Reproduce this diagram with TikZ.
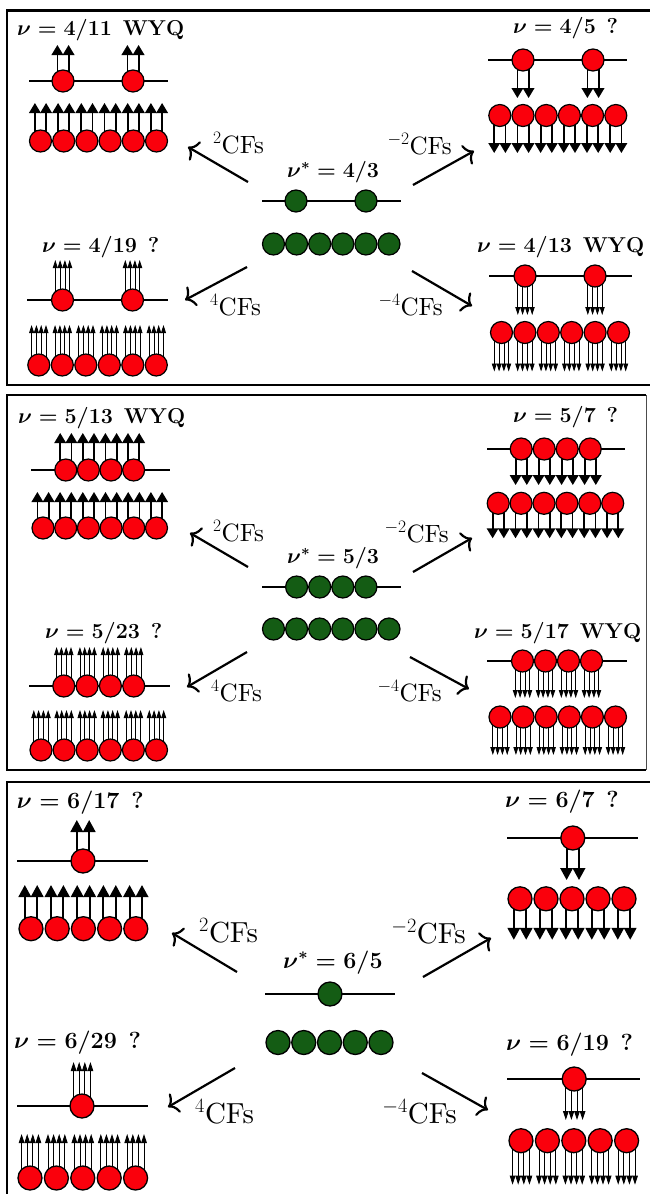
\documentclass[tikz,border=0pt]{standalone}
\usepackage{fix-cm}
\usepackage{fontspec}
\newfontfamily\cffont{lmroman10-regular}[Extension=.otf]
\usetikzlibrary{arrows.meta,backgrounds}
\definecolor{rossocf}{RGB}{250,0,12}
\definecolor{verdecf}{RGB}{20,92,20}

\begin{document}
\begin{tikzpicture}[x=1pt, y=-1pt,
        pannello/.style={line width=2.8pt},
        livello/.style={line width=1.8pt},
        cfr/.style={circle, draw, line width=1.2pt, fill=rossocf, minimum size=22pt, inner sep=0pt},
        cfv/.style={cfr, fill=verdecf},
        cfr6/.style={cfr, line width=1.3pt, minimum size=24pt},
        cfv6/.style={cfr6, fill=verdecf},
        flusso2/.style={line width=1.8pt, -{Triangle[width=11.5pt, length=10pt]}},
        flusso4/.style={line width=0.8pt, -{Triangle[width=4.9pt, length=8pt]}},
        flusso2g/.style={line width=2pt, -{Triangle[width=12.5pt, length=12pt]}},
        flusso4g/.style={line width=0.9pt, -{Triangle[width=5.6pt, length=9pt]}},
        freccia/.style={line width=2.2pt, -{Computer Modern Rightarrow[length=9pt, width=22pt]}},
        nu/.style={font=\fontsize{21.5}{25}\selectfont\bfseries\boldmath, inner sep=0pt, anchor=base west},
        nug/.style={nu, font=\fontsize{23.3}{27}\selectfont\bfseries\boldmath},
        cf/.style={font=\fontsize{25}{29}\cffont, inner sep=0pt},
        cfg/.style={font=\fontsize{29}{33}\cffont, inner sep=0pt}
    ]
        \useasboundingbox (0,0) rectangle (649,1194);

        % Pannello nu* = 4/3
        \draw[pannello] (7,10.5) rectangle (665,385);
        \node[nu] (cen1) at (287,177) {$\nu^* = 4/3$};
        \draw[livello] (262,201) -- (401,201);
        \foreach \x [count=\i] in {296,366} \node[cfv] (v1a\i) at (\x,201) {};
        \foreach \i in {0,...,5} \node[cfv] (v1b\i) at (273.5+23.1*\i,244) {};

        % 2CFs: nu = 4/11
        \node[nu] (t1a) at (17,35) {$\nu = 4/11$\enspace WYQ};
        \draw[livello] (29,81) -- (168,81);
        \foreach \x [count=\i] in {63,133} {
            \node[cfr] (r1a\i) at (\x,81) {};
            \begin{scope}[on background layer]
                \foreach \d in {-5.6,5.6} \draw[flusso2] ([xshift=\d pt]r1a\i.center) -- ++(0,-36);
            \end{scope}
        }
        \foreach \i in {0,...,5} {
            \node[cfr] (r1b\i) at (40.5+23.2*\i,141) {};
            \begin{scope}[on background layer]
                \foreach \d in {-5.6,5.6} \draw[flusso2] ([xshift=\d pt]r1b\i.center) -- ++(0,-38);
            \end{scope}
        }

        % -2CFs: nu = 4/5
        \node[nu] (t1b) at (513,33) {$\nu = 4/5$\enspace?};
        \draw[livello] (488,60) -- (627,60);
        \foreach \x [count=\i] in {523,593} {
            \node[cfr] (r1c\i) at (\x,60) {};
            \begin{scope}[on background layer]
                \foreach \d in {-5.6,5.6} \draw[flusso2] ([xshift=\d pt]r1c\i.center) -- ++(0,38);
            \end{scope}
        }
        \foreach \i in {0,...,5} {
            \node[cfr] (r1d\i) at (499.8+23.2*\i,115.5) {};
            \begin{scope}[on background layer]
                \foreach \d in {-5.6,5.6} \draw[flusso2] ([xshift=\d pt]r1d\i.center) -- ++(0,37.5);
            \end{scope}
        }

        % 4CFs: nu = 4/19
        \node[nu] (t1c) at (42,252) {$\nu = 4/19$\enspace?};
        \draw[livello] (27,300) -- (168,300);
        \foreach \x [count=\i] in {62.5,132.5} {
            \node[cfr] (r1e\i) at (\x,300) {};
            \begin{scope}[on background layer]
                \foreach \d in {-7.2,-2.4,2.4,7.2} \draw[flusso4] ([xshift=\d pt]r1e\i.center) -- ++(0,-40);
            \end{scope}
        }
        \foreach \i in {0,...,5} {
            \node[cfr] (r1f\i) at (38.8+23.5*\i,365) {};
            \begin{scope}[on background layer]
                \foreach \d in {-7.2,-2.4,2.4,7.2} \draw[flusso4] ([xshift=\d pt]r1f\i.center) -- ++(0,-40);
            \end{scope}
        }

        % -4CFs: nu = 4/13
        \node[nu] (t1d) at (477,252) {$\nu = 4/13$\enspace WYQ};
        \draw[livello] (489,276) -- (632,276);
        \foreach \x [count=\i] in {525,595} {
            \node[cfr] (r1g\i) at (\x,276) {};
            \begin{scope}[on background layer]
                \foreach \d in {-7.2,-2.4,2.4,7.2} \draw[flusso4] ([xshift=\d pt]r1g\i.center) -- ++(0,39);
            \end{scope}
        }
        \foreach \i in {0,...,5} {
            \node[cfr] (r1h\i) at (501.5+23.4*\i,332.5) {};
            \begin{scope}[on background layer]
                \foreach \d in {-7.2,-2.4,2.4,7.2} \draw[flusso4] ([xshift=\d pt]r1h\i.center) -- ++(0,39);
            \end{scope}
        }

        % Frecce CF
        \coordinate (s1a) at (248,182); \coordinate (e1a) at (188,147);
        \coordinate (s1b) at (413,185); \coordinate (e1b) at (474,151);
        \coordinate (s1c) at (247,267); \coordinate (e1c) at (185,300);
        \coordinate (s1d) at (412,271); \coordinate (e1d) at (472,306);
        \foreach \n in {a,b,c,d} \draw[freccia] (s1\n) -- (e1\n);
        \node[cf, anchor=base west] (k1a) at (213,153) {$^{2}$CFs};
        \node[cf, anchor=base east] (k1b) at (452,154) {$^{-2}$CFs};
        \node[cf, anchor=base west] (k1c) at (210,315) {$^{4}$CFs};
        \node[cf, anchor=base east] (k1d) at (443,315) {$^{-4}$CFs};

        % Pannello nu* = 5/3
        \draw[pannello] (646,395) -- (7,395) -- (7,770) -- (646,770);
        \draw[line width=1pt, black!70] (646,395) -- (646,770);
        \node[nu] (cen2) at (287,563) {$\nu^* = 5/3$};
        \draw[livello] (262,587) -- (401,587);
        \foreach \i in {0,...,3} \node[cfv] (v2a\i) at (296.6+23.1*\i,587) {};
        \foreach \i in {0,...,5} \node[cfv] (v2b\i) at (273.5+23.1*\i,629) {};

        % 2CFs: nu = 5/13
        \node[nu] (t2a) at (18,423) {$\nu = 5/13$\enspace WYQ};
        \draw[livello] (31,470) -- (170,470);
        \foreach \i in {0,...,3} {
            \node[cfr] (r2a\i) at (65.8+22.6*\i,470) {};
            \begin{scope}[on background layer]
                \foreach \d in {-5.6,5.6} \draw[flusso2] ([xshift=\d pt]r2a\i.center) -- ++(0,-37);
            \end{scope}
        }
        \foreach \i in {0,...,5} {
            \node[cfr] (r2b\i) at (43+22.7*\i,528) {};
            \begin{scope}[on background layer]
                \foreach \d in {-5.6,5.6} \draw[flusso2] ([xshift=\d pt]r2b\i.center) -- ++(0,-36);
            \end{scope}
        }

        % -2CFs: nu = 5/7
        \node[nu] (t2b) at (513,422) {$\nu = 5/7$\enspace?};
        \draw[livello] (487,449) -- (625,449);
        \foreach \i in {0,...,3} {
            \node[cfr] (r2c\i) at (521.2+23*\i,449) {};
            \begin{scope}[on background layer]
                \foreach \d in {-5.6,5.6} \draw[flusso2] ([xshift=\d pt]r2c\i.center) -- ++(0,36);
            \end{scope}
        }
        \foreach \i in {0,...,5} {
            \node[cfr] (r2d\i) at (498.2+22.9*\i,503.3) {};
            \begin{scope}[on background layer]
                \foreach \d in {-5.6,5.6} \draw[flusso2] ([xshift=\d pt]r2d\i.center) -- ++(0,35);
            \end{scope}
        }

        % 4CFs: nu = 5/23
        \node[nu] (t2c) at (45,638) {$\nu = 5/23$\enspace?};
        \draw[livello] (29,686) -- (170,686);
        \foreach \i in {0,...,3} {
            \node[cfr] (r2e\i) at (63.8+23.3*\i,686) {};
            \begin{scope}[on background layer]
                \foreach \d in {-7.2,-2.4,2.4,7.2} \draw[flusso4] ([xshift=\d pt]r2e\i.center) -- ++(0,-39);
            \end{scope}
        }
        \foreach \i in {0,...,5} {
            \node[cfr] (r2f\i) at (41+23.1*\i,750) {};
            \begin{scope}[on background layer]
                \foreach \d in {-7.2,-2.4,2.4,7.2} \draw[flusso4] ([xshift=\d pt]r2f\i.center) -- ++(0,-40);
            \end{scope}
        }

        % -4CFs: nu = 5/17
        \node[nu] (t2d) at (474,638) {$\nu = 5/17$\enspace WYQ};
        \draw[livello] (487,661) -- (627,661);
        \foreach \i in {0,...,3} {
            \node[cfr] (r2g\i) at (522.5+23*\i,661) {};
            \begin{scope}[on background layer]
                \foreach \d in {-7.2,-2.4,2.4,7.2} \draw[flusso4] ([xshift=\d pt]r2g\i.center) -- ++(0,37);
            \end{scope}
        }
        \foreach \i in {0,...,5} {
            \node[cfr] (r2h\i) at (500+23.1*\i,717) {};
            \begin{scope}[on background layer]
                \foreach \d in {-7.2,-2.4,2.4,7.2} \draw[flusso4] ([xshift=\d pt]r2h\i.center) -- ++(0,38);
            \end{scope}
        }

        % Frecce CF
        \coordinate (s2a) at (248,567); \coordinate (e2a) at (190,533);
        \coordinate (s2b) at (413,572); \coordinate (e2b) at (472,538);
        \coordinate (s2c) at (247,652); \coordinate (e2c) at (187,687);
        \coordinate (s2d) at (410,657); \coordinate (e2d) at (469,689);
        \foreach \n in {a,b,c,d} \draw[freccia] (s2\n) -- (e2\n);
        \node[cf, anchor=base west] (k2a) at (213,541) {$^{2}$CFs};
        \node[cf, anchor=base east] (k2b) at (449,542) {$^{-2}$CFs};
        \node[cf, anchor=base west] (k2c) at (211,701) {$^{4}$CFs};
        \node[cf, anchor=base east] (k2d) at (442,701) {$^{-4}$CFs};

        % Pannello nu* = 6/5
        \draw[pannello] (7,782) rectangle (665,1210);
        \node[nug] (cen3) at (283,968) {$\nu^* = 6/5$};
        \draw[livello] (265,994) -- (395,994);
        \node[cfv6] (v3a) at (330,994) {};
        \foreach \i in {0,...,4} \node[cfv6] (v3b\i) at (278+25.75*\i,1042.5) {};

        % 2CFs: nu = 6/17
        \node[nug] (t3a) at (16.7,808) {$\nu = 6/17$\enspace?};
        \draw[livello] (17,861) -- (148,861);
        \node[cfr6] (r3a) at (83,861) {};
        \begin{scope}[on background layer]
            \foreach \d in {-6.2,6.2} \draw[flusso2g] ([xshift=\d pt]r3a.center) -- ++(0,-41);
        \end{scope}
        \foreach \i in {0,...,4} {
            \node[cfr6] (r3b\i) at (31+26.2*\i,928.7) {};
            \begin{scope}[on background layer]
                \foreach \d in {-6.2,6.2} \draw[flusso2g] ([xshift=\d pt]r3b\i.center) -- ++(0,-43.7);
            \end{scope}
        }

        % -2CFs: nu = 6/7
        \node[nug] (t3b) at (505,807) {$\nu = 6/7$\enspace?};
        \draw[livello] (507,838) -- (638,838);
        \node[cfr6] (r3c) at (572.8,838) {};
        \begin{scope}[on background layer]
            \foreach \d in {-6.2,6.2} \draw[flusso2g] ([xshift=\d pt]r3c.center) -- ++(0,42);
        \end{scope}
        \foreach \i in {0,...,4} {
            \node[cfr6] (r3d\i) at (520+26*\i,898.8) {};
            \begin{scope}[on background layer]
                \foreach \d in {-6.2,6.2} \draw[flusso2g] ([xshift=\d pt]r3d\i.center) -- ++(0,41);
            \end{scope}
        }

        % 4CFs: nu = 6/29
        \node[nug] (t3c) at (14,1048) {$\nu = 6/29$\enspace?};
        \draw[livello] (17,1106) -- (148,1106);
        \node[cfr6] (r3e) at (82,1106) {};
        \begin{scope}[on background layer]
            \foreach \d in {-8.4,-2.8,2.8,8.4} \draw[flusso4g] ([xshift=\d pt]r3e.center) -- ++(0,-44);
        \end{scope}
        \foreach \i in {0,...,4} {
            \node[cfr6] (r3f\i) at (30+26.4*\i,1178) {};
            \begin{scope}[on background layer]
                \foreach \d in {-8.4,-2.8,2.8,8.4} \draw[flusso4g] ([xshift=\d pt]r3f\i.center) -- ++(0,-44);
            \end{scope}
        }

        % -4CFs: nu = 6/19
        \node[nug] (t3d) at (506,1050) {$\nu = 6/19$\enspace?};
        \draw[livello] (507,1079) -- (640,1079);
        \node[cfr6] (r3g) at (574.2,1079) {};
        \begin{scope}[on background layer]
            \foreach \d in {-8.4,-2.8,2.8,8.4} \draw[flusso4g] ([xshift=\d pt]r3g.center) -- ++(0,41);
        \end{scope}
        \foreach \i in {0,...,4} {
            \node[cfr6] (r3h\i) at (521+26.4*\i,1140.7) {};
            \begin{scope}[on background layer]
                \foreach \d in {-8.4,-2.8,2.8,8.4} \draw[flusso4g] ([xshift=\d pt]r3h\i.center) -- ++(0,44);
            \end{scope}
        }

        % Frecce CF
        \coordinate (s3a) at (237,972); \coordinate (e3a) at (172,933);
        \coordinate (s3b) at (423,977); \coordinate (e3b) at (491,938);
        \coordinate (s3c) at (235,1068); \coordinate (e3c) at (168,1107);
        \coordinate (s3d) at (422,1073); \coordinate (e3d) at (488,1110);
        \foreach \n in {a,b,c,d} \draw[freccia] (s3\n) -- (e3\n);
        \node[cfg, anchor=base west] (k3a) at (199,942) {$^{2}$CFs};
        \node[cfg, anchor=base east] (k3b) at (466,943) {$^{-2}$CFs};
        \node[cfg, anchor=base west] (k3c) at (195,1123) {$^{4}$CFs};
        \node[cfg, anchor=base east] (k3d) at (457,1123) {$^{-4}$CFs};

    \end{tikzpicture}
\end{document}
